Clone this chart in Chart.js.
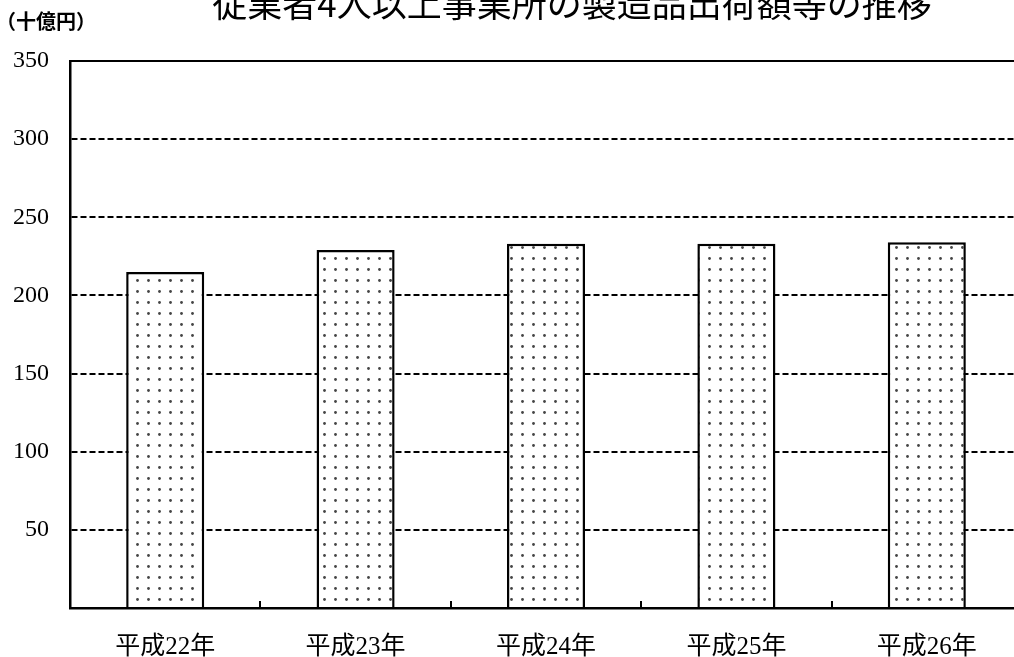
<!DOCTYPE html>
<html>
<head>
<meta charset="utf-8">
<script src="https://cdn.jsdelivr.net/npm/chart.js@4.4.0/dist/chart.umd.min.js"></script>
<style>
  html, body { margin: 0; padding: 0; background: #fff; overflow: hidden; }
  #wrap { position: relative; width: 1030px; height: 657px; }
</style>
</head>
<body>
<div id="wrap"><canvas id="myChart"></canvas></div>
<script>
// Data
const years = ["平成22年", "平成23年", "平成24年", "平成25年", "平成26年"];
const shipments = [215, 229, 233, 233, 234];
const yTicks = [0, 50, 100, 150, 200, 250, 300, 350];

const chartTitle = "従業者4人以上事業所の製造品出荷額等の推移";
const unitLabel = "（十億円）";

// Dotted fill like the original
function makeDots() {
  const c = document.createElement("canvas");
  c.width = 11;
  c.height = 11;
  const g = c.getContext("2d");
  g.fillStyle = "#fff";
  g.fillRect(0, 0, 11, 11);
  g.fillStyle = "#444";
  g.beginPath();
  g.arc(5.5, 5.5, 1.4, 0, Math.PI * 2);
  g.fill();
  return g.createPattern(c, "repeat");
}

// Title (partly cut off at the top), unit label, top frame line, inner ticks
const decorations = {
  id: "decorations",
  afterDraw(chart) {
    const { ctx, chartArea, scales } = chart;
    ctx.save();
    ctx.fillStyle = "#000";
    ctx.textAlign = "center";
    ctx.textBaseline = "alphabetic";
    ctx.font = "35px 'Noto Sans CJK JP'";
    ctx.fillText(chartTitle, 572, 17);

    ctx.textAlign = "left";
    ctx.textBaseline = "middle";
    ctx.font = "bold 20px 'Noto Sans CJK JP'";
    ctx.fillText(unitLabel, -4, 21);

    // solid top line at 350
    ctx.strokeStyle = "#000";
    ctx.lineWidth = 2;
    ctx.beginPath();
    ctx.moveTo(chartArea.left, chartArea.top);
    ctx.lineTo(chartArea.right, chartArea.top);
    ctx.stroke();

    // short upward ticks between categories
    const x = scales.x;
    const half = (x.getPixelForValue(1) - x.getPixelForValue(0)) / 2;
    ctx.lineWidth = 2;
    for (let i = 0; i < years.length - 1; i++) {
      const px = Math.round(x.getPixelForValue(i) + half);
      ctx.beginPath();
      ctx.moveTo(px, chartArea.bottom);
      ctx.lineTo(px, chartArea.bottom - 7);
      ctx.stroke();
    }
    ctx.restore();
  },
};

const ctx = document.getElementById("myChart").getContext("2d");

new Chart(ctx, {
  type: "bar",
  data: {
    labels: years,
    datasets: [
      {
        data: shipments,
        backgroundColor: makeDots(),
        borderColor: "#000",
        borderWidth: 2.5,
        barPercentage: 0.41,
        categoryPercentage: 1,
      },
    ],
  },
  options: {
    responsive: true,
    maintainAspectRatio: false,
    animation: false,
    layout: { padding: { top: 61, right: 8, bottom: 0, left: 0 } },
    plugins: {
      legend: { display: false },
      tooltip: { enabled: false },
      title: { display: false },
    },
    scales: {
      x: {
        grid: { display: false },
        border: { display: true, color: "#000", width: 2.5 },
        ticks: {
          color: "#000",
          padding: 16,
          font: { family: "'Liberation Serif', 'Noto Sans CJK JP'", size: 25 },
        },
        afterFit(scale) {
          scale.height = 49;
        },
      },
      y: {
        min: 0,
        max: 350,
        afterBuildTicks(scale) {
          scale.ticks = yTicks.map((v) => ({ value: v }));
        },
        grid: {
          drawTicks: false,
          lineWidth: 2,
          color: (c) =>
            c.tick && (c.tick.value === 0 || c.tick.value === 350) ? "rgba(0,0,0,0)" : "#000",
        },
        border: { display: true, color: "#000", width: 2.5, dash: [6, 3] },
        ticks: {
          color: "#000",
          padding: 21,
          font: { family: "'Liberation Serif'", size: 24 },
          callback: (v) => (v === 0 ? "" : v),
        },
        afterFit(scale) {
          scale.width = 70;
        },
      },
    },
  },
  plugins: [decorations],
});
</script>
</body>
</html>
